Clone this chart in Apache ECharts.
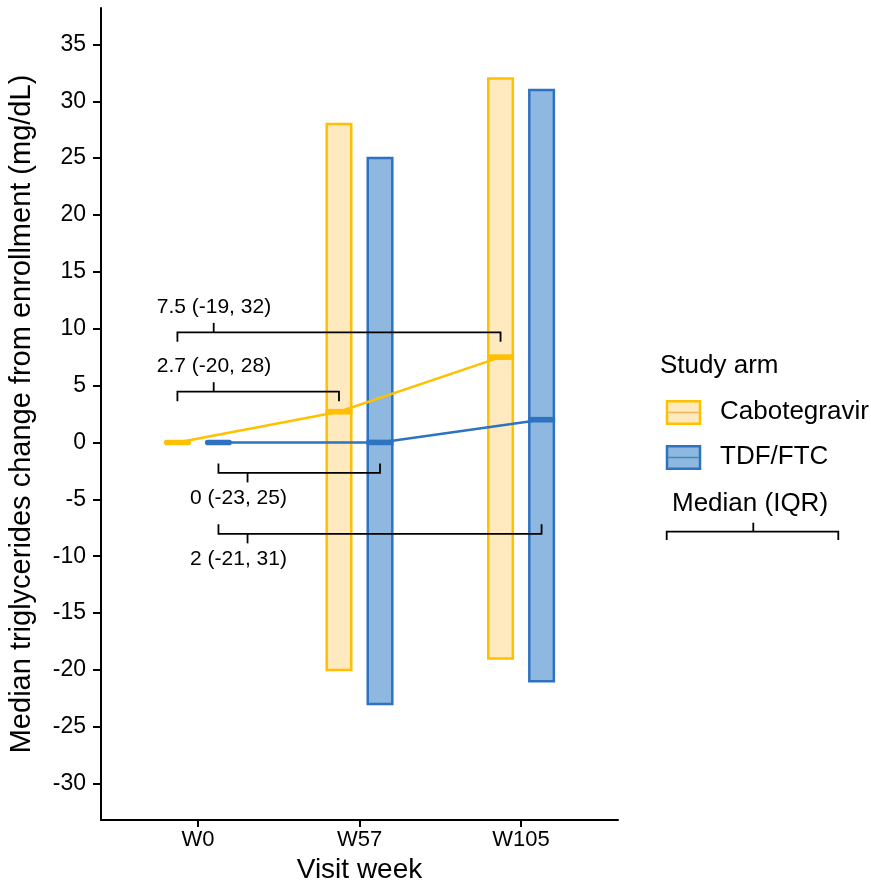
<!DOCTYPE html>
<html>
<head>
<meta charset="utf-8">
<script src="https://cdn.jsdelivr.net/npm/echarts@6/dist/echarts.min.js"></script>
<style>
html,body{margin:0;padding:0;background:#fff;}
#chart{width:871px;height:886px;}
</style>
</head>
<body>
<div id="chart"></div>
<script>
// ---- data ----
const categories = ['W0', 'W57', 'W105'];
const cabMedian = [0, 2.7, 7.5];
const cabQ1 = [null, -20, -19];
const cabQ3 = [null, 28, 32];
const tdfMedian = [0, 0, 2];
const tdfQ1 = [null, -23, -21];
const tdfQ3 = [null, 25, 31];
const yTicks = [-30, -25, -20, -15, -10, -5, 0, 5, 10, 15, 20, 25, 30, 35];
const armNames = ['Cabotegravir', 'TDF/FTC'];

// ---- style ----
const FONT = 'Liberation Sans, Arial, Helvetica, sans-serif';
const cabLine = '#FFC000';
const cabFill = '#FFE9BF';
const tdfLine = '#2E72C2';
const tdfFill = '#8EB8E0';
const dodge = 0.127;
const boxW = 0.152;

function pos(i, arm) { return i + 1 + (arm === 0 ? -dodge : dodge); }

function boxData(arm, q1, q3, med) {
  return categories.map((c, i) => [pos(i, arm), q1[i] == null ? NaN : q1[i], q3[i] == null ? NaN : q3[i], med[i]]);
}
function lineData(arm, med) {
  return categories.map((c, i) => [pos(i, arm), med[i]]);
}
function label(med, q1, q3, i) { return med[i] + ' (' + q1[i] + ', ' + q3[i] + ')'; }

// brackets: arm, week index, level (y), mid tick x, label x, direction (-1 = label above)
const brackets = [
  { arm: 0, wk: 2, y: 9.68, mid: 1.0975, lx: 1.099, dir: -1 },
  { arm: 0, wk: 1, y: 4.46, mid: 1.0975, lx: 1.099, dir: -1 },
  { arm: 1, wk: 1, y: -2.68, mid: 1.307, lx: 1.251, dir: 1 },
  { arm: 1, wk: 2, y: -8.04, mid: 1.307, lx: 1.251, dir: 1 }
];
const bracketData = brackets.map(b => [pos(0, b.arm), pos(b.wk, b.arm), b.y, b.mid, b.lx, b.dir,
  b.arm === 0 ? label(cabMedian, cabQ1, cabQ3, b.wk) : label(tdfMedian, tdfQ1, tdfQ3, b.wk)]);

function boxRenderer(stroke, fill) {
  return function (params, api) {
    const x = api.value(0), lo = api.value(1), hi = api.value(2);
    if (isNaN(lo) || isNaN(hi)) return null;
    const a = api.coord([x, hi]), b = api.coord([x, lo]);
    const w = api.size([boxW, 0])[0];
    return {
      type: 'rect',
      shape: { x: a[0] - w / 2, y: a[1], width: w, height: b[1] - a[1] },
      style: { fill: fill, stroke: stroke, lineWidth: 2.5 }
    };
  };
}
function medRenderer(stroke) {
  return function (params, api) {
    const x = api.value(0), lo = api.value(1), med = api.value(3);
    const m = api.coord([x, med]);
    const w = api.size([boxW, 0])[0] + 2.5;
    const round = isNaN(lo);
    return {
      type: 'rect',
      shape: { x: m[0] - w / 2, y: m[1] - 2.8, width: w, height: 5.6, r: round ? 2.8 : 0 },
      style: { fill: stroke }
    };
  };
}
function bracketRenderer(params, api) {
  const x1 = api.value(0), x2 = api.value(1), y = api.value(2), xm = api.value(3), lx = api.value(4), dir = api.value(5);
  const text = api.value(6);
  const p1 = api.coord([x1, y]), p2 = api.coord([x2, y]), pm = api.coord([xm, y]), pl = api.coord([lx, y]);
  const tick = 9.5;
  const endY = p1[1] - dir * tick;   // end ticks point away from the label
  return {
    type: 'group',
    children: [
      { type: 'polyline', shape: { points: [[p1[0], endY], [p1[0], p1[1]], [p2[0], p2[1]], [p2[0], endY]] },
        style: { stroke: '#000', lineWidth: 1.8, fill: null } },
      { type: 'line', shape: { x1: pm[0], y1: pm[1], x2: pm[0], y2: pm[1] + dir * tick }, style: { stroke: '#000', lineWidth: 1.8 } },
      { type: 'text', x: pl[0], y: pl[1] + dir * 25.5,
        style: { text: text, fill: '#000', font: '21px ' + FONT, align: 'center', verticalAlign: 'middle' } }
    ]
  };
}

const chart = echarts.init(document.getElementById('chart'), null, { renderer: 'canvas' });

const legendX = 667;
const option = {
  animation: false,
  backgroundColor: '#fff',
  textStyle: { fontFamily: FONT },
  grid: { left: 101, right: 253, top: 8, bottom: 66, containLabel: false, outerBoundsMode: 'none' },
  xAxis: {
    type: 'value', min: 0.4, max: 3.6,
    name: 'Visit week', nameLocation: 'middle', nameGap: 32,
    nameTextStyle: { fontSize: 28, color: '#000', fontFamily: FONT },
    axisLine: { show: true, onZero: false, lineStyle: { color: '#000', width: 2 } },
    axisTick: { show: true, length: 7, lineStyle: { color: '#000', width: 2 }, customValues: [1, 2, 3] },
    axisLabel: { fontSize: 22, color: '#000', margin: 9, fontFamily: FONT, customValues: [1, 2, 3],
      formatter: v => categories[Math.round(v) - 1] },
    splitLine: { show: false }
  },
  yAxis: {
    type: 'value', min: -33.2, max: 38.2,
    name: 'Median triglycerides change from enrollment (mg/dL)', nameLocation: 'middle', nameGap: 65,
    nameTextStyle: { fontSize: 29, color: '#000', fontFamily: FONT },
    axisLine: { show: true, onZero: false, lineStyle: { color: '#000', width: 2 } },
    axisTick: { show: true, length: 8, lineStyle: { color: '#000', width: 2 }, customValues: yTicks },
    axisLabel: { fontSize: 23, color: '#000', margin: 15, fontFamily: FONT, customValues: yTicks },
    splitLine: { show: false }
  },
  series: [
    { type: 'custom', name: armNames[0], renderItem: boxRenderer(cabLine, cabFill), data: boxData(0, cabQ1, cabQ3, cabMedian), z: 2 },
    { type: 'custom', name: armNames[1], renderItem: boxRenderer(tdfLine, tdfFill), data: boxData(1, tdfQ1, tdfQ3, tdfMedian), z: 2 },
    { type: 'line', data: lineData(0, cabMedian), symbol: 'none', lineStyle: { color: cabLine, width: 2.5 }, z: 3 },
    { type: 'line', data: lineData(1, tdfMedian), symbol: 'none', lineStyle: { color: tdfLine, width: 2.5 }, z: 3 },
    { type: 'custom', renderItem: medRenderer(cabLine), data: boxData(0, cabQ1, cabQ3, cabMedian), z: 4 },
    { type: 'custom', renderItem: medRenderer(tdfLine), data: boxData(1, tdfQ1, tdfQ3, tdfMedian), z: 4 },
    { type: 'custom', renderItem: bracketRenderer, data: bracketData, z: 5,
      encode: { x: [0, 1], y: 2 } }
  ],
  graphic: [
    { type: 'text', left: 660, top: 365 - 12, style: { text: 'Study arm', font: '26px ' + FONT, fill: '#000' } },
    { type: 'rect', shape: { x: legendX, y: 401.3, width: 33, height: 22.5 }, style: { fill: cabFill, stroke: cabLine, lineWidth: 2.5 } },
    { type: 'line', shape: { x1: legendX + 1.3, y1: 412.5, x2: legendX + 31.7, y2: 412.5 }, style: { stroke: '#F3B45C', lineWidth: 1.5 } },
    { type: 'text', left: 720, top: 411 - 12, style: { text: armNames[0], font: '26px ' + FONT, fill: '#000' } },
    { type: 'rect', shape: { x: legendX, y: 446.3, width: 33, height: 22.5 }, style: { fill: tdfFill, stroke: tdfLine, lineWidth: 2.5 } },
    { type: 'line', shape: { x1: legendX + 1.3, y1: 457.5, x2: legendX + 31.7, y2: 457.5 }, style: { stroke: '#3C8CB8', lineWidth: 1.5 } },
    { type: 'text', left: 720, top: 456 - 12, style: { text: armNames[1], font: '26px ' + FONT, fill: '#000' } },
    { type: 'text', left: 672, top: 503 - 12, style: { text: 'Median (IQR)', font: '26px ' + FONT, fill: '#000' } },
    { type: 'polyline', shape: { points: [[666.7, 540], [666.7, 531.7], [838.3, 531.7], [838.3, 540]] }, style: { stroke: '#000', lineWidth: 1.8, fill: null } },
    { type: 'line', shape: { x1: 753.3, y1: 531.7, x2: 753.3, y2: 522.7 }, style: { stroke: '#000', lineWidth: 1.8 } }
  ]
};
chart.setOption(option);
</script>
</body>
</html>
